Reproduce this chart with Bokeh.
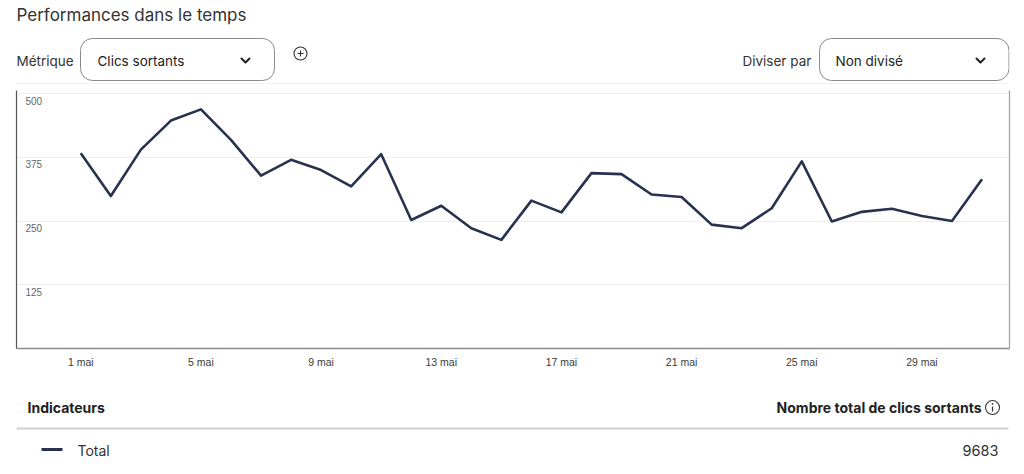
from bokeh.plotting import figure
from bokeh.layouts import column
from bokeh.models import Range1d, FixedTicker, LinearAxis
from bokeh.core.properties import value
from bokeh.embed import file_html
from bokeh.resources import INLINE

# ---- data ----
days = list(range(1, 32))
clicks = [383, 299, 390, 447, 469, 409, 339, 370, 350, 318, 381, 252, 280, 236, 213,
          290, 267, 344, 342, 302, 297, 243, 236, 275, 367, 249, 268, 274, 260, 250, 332]
x_ticks = [1, 5, 9, 13, 17, 21, 25, 29]
x_labels = ["1 mai", "5 mai", "9 mai", "13 mai", "17 mai", "21 mai", "25 mai", "29 mai"]
y_ticks = [125, 250, 375, 500]
y_labels = ["125", "250", "375", "500"]
title_text = "Performances dans le temps"
metric_label = "Métrique"
metric_value = "Clics sortants"
split_label = "Diviser par"
split_value = "Non divisé"
table_head_left = "Indicateurs"
table_head_right = "Nombre total de clics sortants"
series_name = "Total"
total_label = "9683"

LINE = "#28324f"
UI_FONT = value("Inter")
AX_FONT = "Liberation Sans"

W = 1024
BL, BR = 16, 15          # shared left/right borders -> frames span x 16..1009
XR = (16, 1009)


def deco_fig(y0, y1):
    fg = figure(width=W, height=y1 - y0, x_range=Range1d(*XR), y_range=Range1d(y1, y0),
                output_backend="svg", toolbar_location=None,
                min_border_left=BL, min_border_right=BR, min_border_top=0, min_border_bottom=0,
                outline_line_color=None)
    fg.axis.visible = False
    fg.grid.visible = False
    return fg


# ---- header (page y 0..90) ----
h = deco_fig(0, 90)
h.text(x=[16], y=[14], text=[title_text], text_font=UI_FONT, text_font_size="17px",
       text_color="#333333", text_baseline="middle")
h.text(x=[16, 742], y=[60, 60], text=[metric_label, split_label], text_font=UI_FONT,
       text_font_size="13.5px", text_color="#333333", text_baseline="middle")
h.quad(left=[80, 819], right=[274, 1008.5], top=[38, 38], bottom=[80, 80],
       fill_color="white", line_color="#8a8a8a", line_width=1, border_radius=12)
h.text(x=[97, 835], y=[60, 60], text=[metric_value, split_value], text_font=UI_FONT,
       text_font_size="13.5px", text_color="#222222", text_baseline="middle")
h.multi_line(xs=[[241, 245, 249], [976, 980, 984]], ys=[[58, 62, 58], [58, 62, 58]],
             line_color="#222222", line_width=2, line_join="round", line_cap="round")
h.scatter(x=[300], y=[53], marker="circle", size=13, fill_color=None,
          line_color="#333333", line_width=1.1)
h.multi_line(xs=[[297, 303], [300, 300]], ys=[[53, 53], [50, 56]],
             line_color="#333333", line_width=1.1)
h.line(x=[16, 1008], y=[83, 83], line_color="#f2f2f2", line_width=1)

# ---- chart (page y 90..372, frame 90..348) ----
p = figure(width=W, height=282, x_range=Range1d(-1.140, 31.915), y_range=Range1d(0, 506),
           output_backend="svg", toolbar_location=None,
           min_border_left=BL, min_border_right=BR, min_border_top=0, min_border_bottom=24,
           outline_line_color=None)
p.line(days, clicks, line_color=LINE, line_width=2.6, line_join="round")

p.xaxis.ticker = FixedTicker(ticks=x_ticks)
p.xaxis.major_label_overrides = dict(zip(x_ticks, x_labels))
p.xaxis.major_tick_out = 0
p.xaxis.major_tick_in = 0
p.xaxis.minor_tick_out = 0
p.xaxis.minor_tick_in = 0
p.xaxis.axis_line_color = "#8a8a8a"
p.xaxis.axis_line_width = 1.5
p.xaxis.major_label_text_font = AX_FONT
p.xaxis.major_label_text_font_size = "10.5px"
p.xaxis.major_label_text_color = "#3a3a3a"
p.xaxis.major_label_standoff = 7

p.yaxis.ticker = FixedTicker(ticks=[])
p.yaxis.major_tick_out = 0
p.yaxis.major_tick_in = 0
p.yaxis.minor_tick_out = 0
p.yaxis.minor_tick_in = 0
p.yaxis.axis_line_color = "#555555"
p.yaxis.axis_line_width = 1.2

right_axis = LinearAxis(ticker=FixedTicker(ticks=[]), axis_line_color="#a0a0a0",
                        axis_line_width=1.2, major_tick_out=0, major_tick_in=0,
                        minor_tick_out=0, minor_tick_in=0)
p.add_layout(right_axis, "right")

p.ygrid.ticker = FixedTicker(ticks=y_ticks)
p.ygrid.grid_line_color = "#eeeeee"
p.xgrid.visible = False

p.text(x=[p.x_range.start] * len(y_ticks), y=y_ticks, text=y_labels, x_offset=9, y_offset=3,
       text_baseline="top", text_font=value(AX_FONT), text_font_size="10px",
       text_color="#666666")

# ---- footer table (page y 372..474) ----
f = deco_fig(372, 474)
f.text(x=[27], y=[407], text=[table_head_left], text_font=UI_FONT, text_font_size="14px",
       text_font_style="bold", text_color="#222222", text_baseline="middle")
f.text(x=[981], y=[407], text=[table_head_right], text_font=UI_FONT, text_font_size="14px",
       text_font_style="bold", text_color="#222222", text_baseline="middle", text_align="right")
f.scatter(x=[992], y=[407], marker="circle", size=14, fill_color=None,
          line_color="#333333", line_width=1.1)
f.multi_line(xs=[[992, 992]], ys=[[406, 411]], line_color="#333333", line_width=1.2)
f.scatter(x=[992], y=[403.3], marker="circle", size=1.8, fill_color="#333333", line_color=None)
f.line(x=[16, 1008], y=[428, 428], line_color="#d0d0d0", line_width=2)
f.line(x=[41, 62], y=[449, 449], line_color=LINE, line_width=3)
f.text(x=[77], y=[450], text=[series_name], text_font=UI_FONT, text_font_size="14px",
       text_color="#333333", text_baseline="middle")
f.text(x=[998], y=[450], text=[total_label], text_font=UI_FONT, text_font_size="14.5px",
       text_color="#333333", text_baseline="middle", text_align="right")

layout = column(h, p, f, spacing=0)
open("out.html", "w").write(file_html(layout, INLINE))
